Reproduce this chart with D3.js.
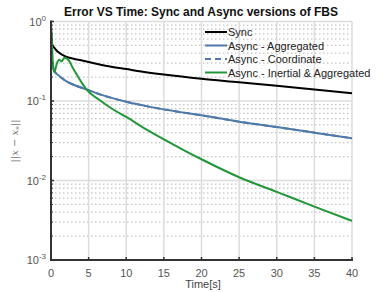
<!DOCTYPE html>
<html>
<head>
<meta charset="utf-8">
<script src="https://cdn.jsdelivr.net/npm/d3@7/dist/d3.min.js"></script>
<style>
  body { margin: 0; background: #fff; }
  svg { display: block; font-family: "Liberation Sans", Arial, sans-serif; }
</style>
</head>
<body>
<script>
// Data
const seriesNames = ['Sync', 'Async - Aggregated', 'Async - Coordinate', 'Async - Inertial & Aggregated'];

const syncT = [0, 0.15, 0.5, 1, 2, 3, 4, 6, 8, 10, 12, 15, 20, 25, 30, 35, 40];
const syncErr = [0.8, 0.52, 0.46, 0.41, 0.36, 0.34, 0.325, 0.295, 0.27, 0.252, 0.235, 0.215, 0.19, 0.172, 0.155, 0.14, 0.125];

const aggT = [0, 0.2, 0.5, 1, 2, 3, 4.7, 6.5, 10, 13, 17, 20, 25, 30, 35, 40];
const aggErr = [0.6, 0.28, 0.235, 0.21, 0.178, 0.16, 0.14, 0.121, 0.098, 0.085, 0.073, 0.066, 0.055, 0.047, 0.04, 0.034];

// coordinate version lies underneath the aggregated one
const coordT = aggT;
const coordErr = aggErr;

const inertT = [0, 0.1, 0.25, 0.45, 0.75, 1.1, 1.4, 1.8, 2.3, 3, 4, 4.7, 6.5, 8, 10, 13, 17, 20, 25, 30, 35, 40];
const inertErr = [0.9, 0.6, 0.3, 0.23, 0.29, 0.33, 0.315, 0.35, 0.33, 0.25, 0.175, 0.14, 0.102, 0.081, 0.063, 0.042, 0.026, 0.0185, 0.011, 0.0072, 0.0047, 0.0031];

const xTicks = [0, 5, 10, 15, 20, 25, 30, 35, 40];
const yTickExps = [0, -1, -2, -3];

const width = 389, height = 292;
const svg = d3.select('body').append('svg')
  .attr('width', width).attr('height', height);

const x = d3.scaleLinear().domain([0, 40]).range([51, 352]);
const y = d3.scaleLog().domain([1e-3, 1]).range([260, 21.5]);

// minor horizontal grid (dotted)
const minorVals = [];
[-3, -2, -1].forEach(e => {
  for (let k = 2; k <= 9; k++) minorVals.push(k * Math.pow(10, e));
});
svg.append('g').selectAll('line').data(minorVals).join('line')
  .attr('x1', x(0)).attr('x2', x(40))
  .attr('y1', d => y(d)).attr('y2', d => y(d))
  .attr('stroke', '#c4c4c4').attr('stroke-width', 1.2)
  .attr('stroke-dasharray', '1.5,2.5');

// major grid
const grid = svg.append('g');
grid.selectAll('line.gx').data(xTicks).join('line').attr('class', 'gx')
  .attr('x1', d => x(d)).attr('x2', d => x(d))
  .attr('y1', y(1)).attr('y2', y(1e-3))
  .attr('stroke', '#dcdcdc').attr('stroke-width', 1.5);
grid.selectAll('line.gy').data(yTickExps).join('line').attr('class', 'gy')
  .attr('x1', x(0)).attr('x2', x(40))
  .attr('y1', d => y(Math.pow(10, d))).attr('y2', d => y(Math.pow(10, d)))
  .attr('stroke', '#dcdcdc').attr('stroke-width', 1.5);

// curves
const line = d3.line().x(d => x(d[0])).y(d => y(d[1])).curve(d3.curveMonotoneX);
const zip = (a, b) => a.map((v, i) => [v, b[i]]);

const curves = [
  { data: zip(coordT, coordErr), color: '#4f79a8', dash: '6,4' },
  { data: zip(aggT, aggErr), color: '#4f79a8', dash: null },
  { data: zip(syncT, syncErr), color: '#000000', dash: null },
  { data: zip(inertT, inertErr), color: '#23963a', dash: null }
];
curves.forEach(c => {
  svg.append('path').datum(c.data)
    .attr('d', line)
    .attr('fill', 'none')
    .attr('stroke', c.color)
    .attr('stroke-width', 2)
    .attr('stroke-dasharray', c.dash);
});

// axes lines
svg.append('line').attr('x1', x(0)).attr('x2', x(0))
  .attr('y1', y(1) - 1).attr('y2', y(1e-3) + 1)
  .attr('stroke', '#333').attr('stroke-width', 2);
svg.append('line').attr('x1', x(0) - 1).attr('x2', x(40) + 1)
  .attr('y1', y(1e-3)).attr('y2', y(1e-3))
  .attr('stroke', '#333').attr('stroke-width', 2);

// x ticks + labels
const xt = svg.append('g');
xt.selectAll('line').data(xTicks).join('line')
  .attr('x1', d => x(d)).attr('x2', d => x(d))
  .attr('y1', y(1e-3)).attr('y2', y(1e-3) - 3)
  .attr('stroke', '#333').attr('stroke-width', 1.5);
xt.selectAll('text').data(xTicks).join('text')
  .attr('x', d => x(d)).attr('y', 277)
  .attr('text-anchor', 'middle')
  .attr('font-size', 11).attr('fill', '#555')
  .text(d => d);

// y ticks + labels
const yt = svg.append('g');
yt.selectAll('line').data(yTickExps).join('line')
  .attr('x1', x(0)).attr('x2', x(0) + 3)
  .attr('y1', d => y(Math.pow(10, d))).attr('y2', d => y(Math.pow(10, d)))
  .attr('stroke', '#333').attr('stroke-width', 1.5);
yt.selectAll('line.minor').data(minorVals).join('line').attr('class', 'minor')
  .attr('x1', x(0)).attr('x2', x(0) + 2)
  .attr('y1', d => y(d)).attr('y2', d => y(d))
  .attr('stroke', '#333').attr('stroke-width', 1);
const ylab = yt.selectAll('text').data(yTickExps).join('text')
  .attr('x', 46).attr('y', d => y(Math.pow(10, d)) + 4)
  .attr('text-anchor', 'end')
  .attr('font-size', 11).attr('fill', '#555');
ylab.append('tspan').text('10');
ylab.append('tspan').attr('dy', -5).attr('font-size', 8).text(d => d);

// title
svg.append('text')
  .attr('x', 201).attr('y', 16)
  .attr('text-anchor', 'middle')
  .attr('font-size', 12).attr('font-weight', 'bold').attr('fill', '#111')
  .text('Error VS Time: Sync and Async versions of FBS');

// x label
svg.append('text')
  .attr('x', 203).attr('y', 288)
  .attr('text-anchor', 'middle')
  .attr('font-size', 11).attr('fill', '#444')
  .text('Time[s]');

// y label
const yl = svg.append('text')
  .attr('transform', 'translate(18,141) rotate(-90)')
  .attr('text-anchor', 'middle')
  .attr('font-size', 10).attr('fill', '#777')
  .attr('font-family', '"DejaVu Serif", serif');
yl.append('tspan').text('||');
yl.append('tspan').attr('font-style', 'italic').text('x');
yl.append('tspan').text(' \u2212 ');
yl.append('tspan').attr('font-style', 'italic').text('x');
yl.append('tspan').attr('dy', 3).attr('font-size', 7).text('*');
yl.append('tspan').attr('dy', -3).text('||');

// legend
const legendColors = ['#000000', '#4f79a8', '#4f79a8', '#23963a'];
const legendDash = [null, null, '6,4', null];
const lg = svg.append('g');
seriesNames.forEach((name, i) => {
  const ly = 32 + i * 13.5;
  lg.append('line')
    .attr('x1', 205).attr('x2', 227).attr('y1', ly).attr('y2', ly)
    .attr('stroke', legendColors[i]).attr('stroke-width', 2)
    .attr('stroke-dasharray', legendDash[i]);
  lg.append('text')
    .attr('x', 228).attr('y', ly + 4)
    .attr('font-size', 11).attr('fill', '#222')
    .text(name);
});
</script>
</body>
</html>
